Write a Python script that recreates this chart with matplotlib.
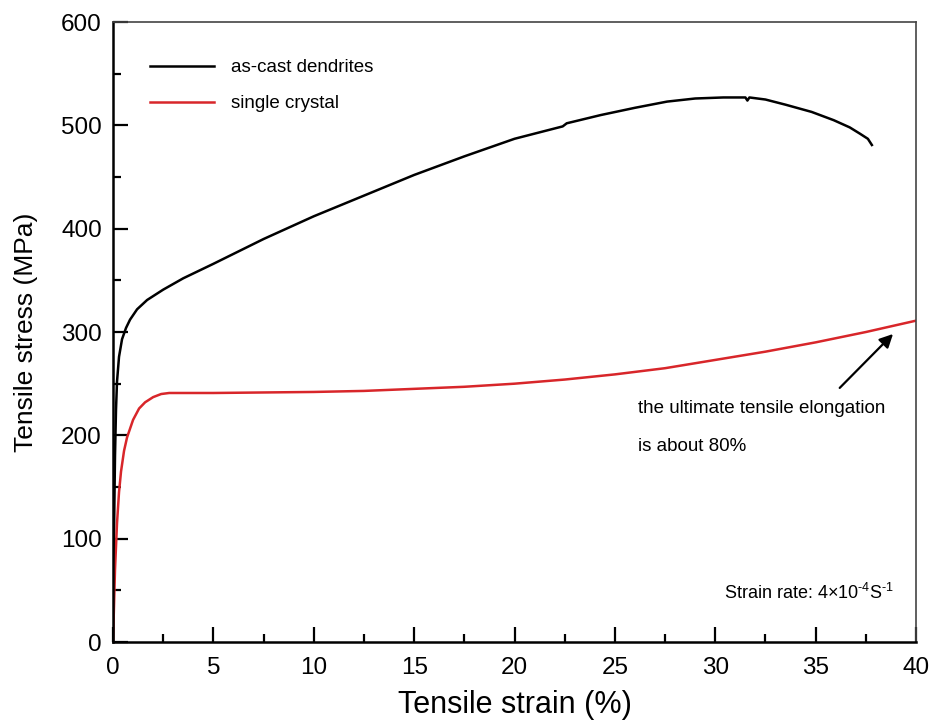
import numpy as np
import matplotlib
matplotlib.use("Agg")
import matplotlib.pyplot as plt
from matplotlib.ticker import MultipleLocator

plt.rcParams['font.family'] = ['Liberation Sans', 'DejaVu Sans']
plt.rcParams['mathtext.fontset'] = 'custom'
plt.rcParams['mathtext.rm'] = 'Liberation Sans'

# As-cast dendrites: engineering stress-strain
cast_strain = [0, 0.03, 0.06, 0.1, 0.15, 0.2, 0.3, 0.45, 0.65, 0.85, 1.2, 1.7, 2.5, 3.5,
               5, 7.5, 10, 12.5, 15, 17.5, 20, 22.4, 22.6, 24.3, 26, 27.6, 29, 30.4,
               31.5, 31.6, 31.7, 32.5, 33.5, 34.8, 35.9, 36.7, 37.2, 37.6, 37.8]
cast_stress = [0, 60, 120, 180, 225, 252, 276, 293, 304, 312, 322, 331, 341, 352,
               366, 390, 412, 432, 452, 470, 487, 499, 502, 510, 517, 523, 526, 527,
               527, 524, 527, 525, 520, 513, 505, 498, 492, 487, 481]

# Single crystal
sc_strain = [0, 0.05, 0.1, 0.2, 0.3, 0.4, 0.55, 0.7, 1.0, 1.3, 1.6, 2.0, 2.4, 2.8,
             4, 5, 7.5, 10, 12.5, 15, 17.5, 20, 22.5, 25, 27.5, 30, 32.5, 35, 37.5, 40]
sc_stress = [0, 35, 70, 115, 145, 165, 185, 198, 215, 226, 232, 237, 240, 241,
             241, 241, 241.5, 242, 243, 245, 247, 250, 254, 259, 265, 273, 281, 290, 300, 311]

fig = plt.figure(figsize=(9.3, 7.27), dpi=100)
ax = fig.add_axes([0.1215, 0.1169, 0.8635, 0.8528])

ax.plot(cast_strain, cast_stress, color='black', lw=1.8, label='as-cast dendrites')
ax.plot(sc_strain, sc_stress, color='#d8262a', lw=1.8, label='single crystal')

ax.set_xlim(0, 40)
ax.set_ylim(0, 600)
ax.xaxis.set_major_locator(MultipleLocator(5))
ax.xaxis.set_minor_locator(MultipleLocator(2.5))
ax.yaxis.set_major_locator(MultipleLocator(100))
ax.yaxis.set_minor_locator(MultipleLocator(50))
ax.tick_params(which='both', direction='in', top=False, right=False, labelsize=17.5, width=1.6)
ax.tick_params(axis='x', which='major', length=11, pad=11)
ax.tick_params(axis='y', which='major', length=11, pad=8)
ax.tick_params(which='minor', length=6)
for side in ['left', 'bottom']:
    ax.spines[side].set_linewidth(1.8)
for side in ['top', 'right']:
    ax.spines[side].set_linewidth(1.2)
    ax.spines[side].set_color('#444444')

ax.set_xlabel('Tensile strain (%)', fontsize=22, labelpad=8)
ax.set_ylabel('Tensile stress (MPa)', fontsize=19, labelpad=17)

ax.legend(loc='upper left', bbox_to_anchor=(0.025, 0.967), frameon=False, fontsize=13.5,
          handlelength=3.4, handletextpad=0.9, labelspacing=1.0)

ax.annotate('', xy=(38.95, 300), xytext=(36.1, 244),
            arrowprops=dict(arrowstyle='-|>', color='black', lw=1.6, mutation_scale=20))
ax.text(26.15, 226, 'the ultimate tensile elongation', fontsize=13.5, va='center', ha='left')
ax.text(26.15, 189, 'is about 80%', fontsize=13.5, va='center', ha='left')
ax.text(38.9, 47, r'Strain rate: 4×10$^{\text{-4}}$S$^{\text{-1}}$', fontsize=13, va='center', ha='right')

fig.savefig('out.png', dpi=100)
